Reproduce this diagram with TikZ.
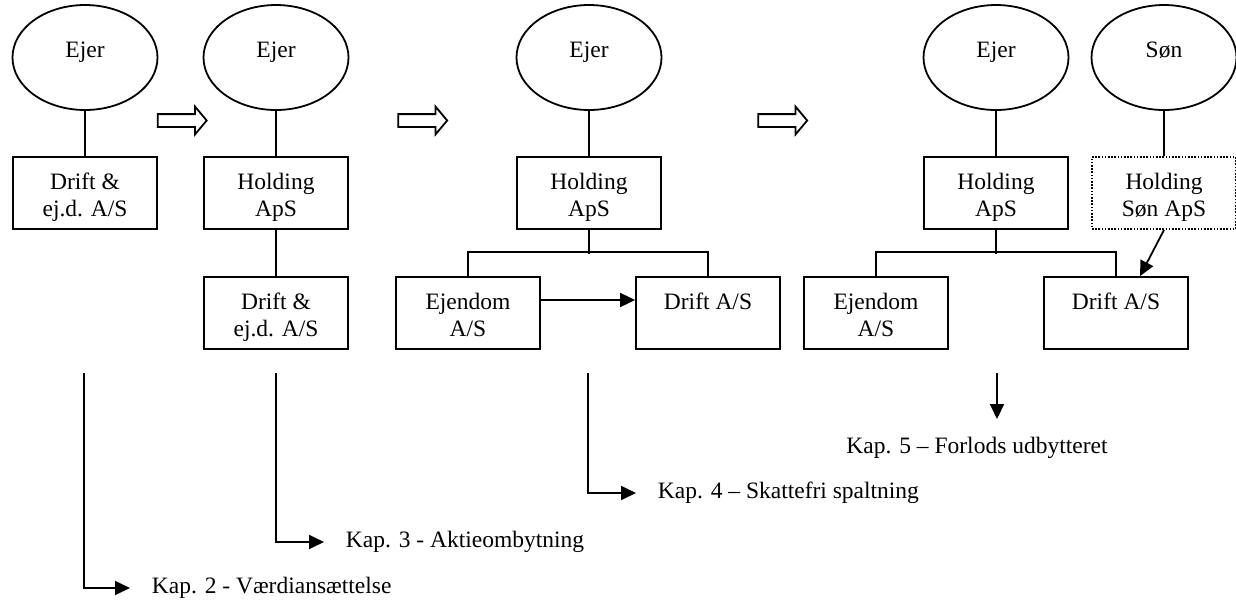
\documentclass[tikz,border=0pt]{standalone}
\usepackage{fontspec}
\setmainfont{Liberation Serif}
\usetikzlibrary{shapes.geometric,shapes.arrows,arrows.meta}
\begin{document}
\begin{tikzpicture}[x=0.5pt,y=-0.5pt,
  line width=0.9pt,
  every node/.style={font=\fontsize{11.75pt}{13.5pt}\selectfont},
  owner/.style={ellipse,draw,minimum width=72.5pt,minimum height=52.5pt,inner sep=0pt,text height=4pt,text depth=4pt},
  company/.style={rectangle,draw,minimum width=72pt,inner sep=0pt,align=center,text height=16.25pt,text depth=19.75pt},
  twoline/.style={text height=29.75pt,text depth=6.25pt},
  planned/.style={company,dash pattern=on 0.8pt off 0.8pt},
  blockarrow/.style={single arrow,draw,minimum height=24.5pt,minimum width=13pt,inner sep=2.75pt,single arrow head extend=3.75pt,single arrow tip angle=100,single arrow head indent=0pt},
  kap/.style={anchor=west,inner xsep=10.5pt,inner ysep=0pt},
  kapdown/.style={inner xsep=0pt,inner ysep=8.45pt},
  solidtip/.style={-{Triangle[length=7.5pt,width=7pt]}}
]
\useasboundingbox (0,0) rectangle (1236,600);

% panel 1
\node[owner] (o1) at (85,57.5) {Ejer};
\node[company,twoline] (c1) at (85,193) {Drift \&\\ej.d. A/S};
\node[blockarrow] (a1) at (179.5,120.5) {};

% panel 2
\node[owner] (o2) at (276,57.5) {Ejer};
\node[company,twoline] (c2) at (276,193) {Holding\\ApS};
\node[company,twoline] (c2b) at (276,313) {Drift \&\\ej.d. A/S};
\node[blockarrow] (a2) at (420,120.5) {};

% panel 3
\node[owner] (o3) at (589,57.5) {Ejer};
\node[company,twoline] (h3) at (589,193) {Holding\\ApS};
\node[company,twoline] (e3) at (468,313) {Ejendom\\A/S};
\node[company] (d3) at (708,313) {Drift A/S};
\node[blockarrow] (a3) at (780,120.5) {};

% panel 4
\node[owner] (o4) at (996,57.5) {Ejer};
\node[owner] (s4) at (1164,57.5) {Søn};
\node[company,twoline] (h4) at (996,193) {Holding\\ApS};
\node[planned,twoline] (hs4) at (1164,193) {Holding\\Søn ApS};
\node[company,twoline] (e4) at (876,313) {Ejendom\\A/S};
\node[company] (d4) at (1116,313) {Drift A/S};

% connectors
\draw (o1.south) -- (c1.north);
\draw (o2.south) -- (c2.north);
\draw (c2.south) -- (c2b.north);
\draw (o3.south) -- (h3.north);
\draw (h3.south) -- ++(0,24);
\draw (e3.north) -- ++(0,-24) -| (d3.north);
\draw[solidtip] ([yshift=6.5pt]e3.east) -- ([yshift=6.5pt]d3.west);
\draw (o4.south) -- (h4.north);
\draw (s4.south) -- (hs4.north);
\draw (h4.south) -- ++(0,24);
\draw (e4.north) -- ++(0,-24) -| (d4.north);
\draw[solidtip] (hs4.south) -- ([xshift=12pt]d4.north);

% chapter references
\coordinate (t2) at (84,373);
\coordinate (t3) at (276,373);
\coordinate (t4) at (588,373);
\coordinate (t5) at (997,373);
\node[kap] (k2) at (130,588) {Kap. 2 - Værdiansættelse};
\node[kap] (k3) at (324,542) {Kap. 3 - Aktieombytning};
\node[kap] (k4) at (636,493) {Kap. 4 – Skattefri spaltning};
\node[kapdown] (k5) at (977,447.5) {Kap. 5 – Forlods udbytteret};
\draw[solidtip] (t2) |- (k2.west);
\draw[solidtip] (t3) |- (k3.west);
\draw[solidtip] (t4) |- (k4.west);
\draw[solidtip] (t5) -- (t5 |- k5.north);
\end{tikzpicture}
\end{document}
